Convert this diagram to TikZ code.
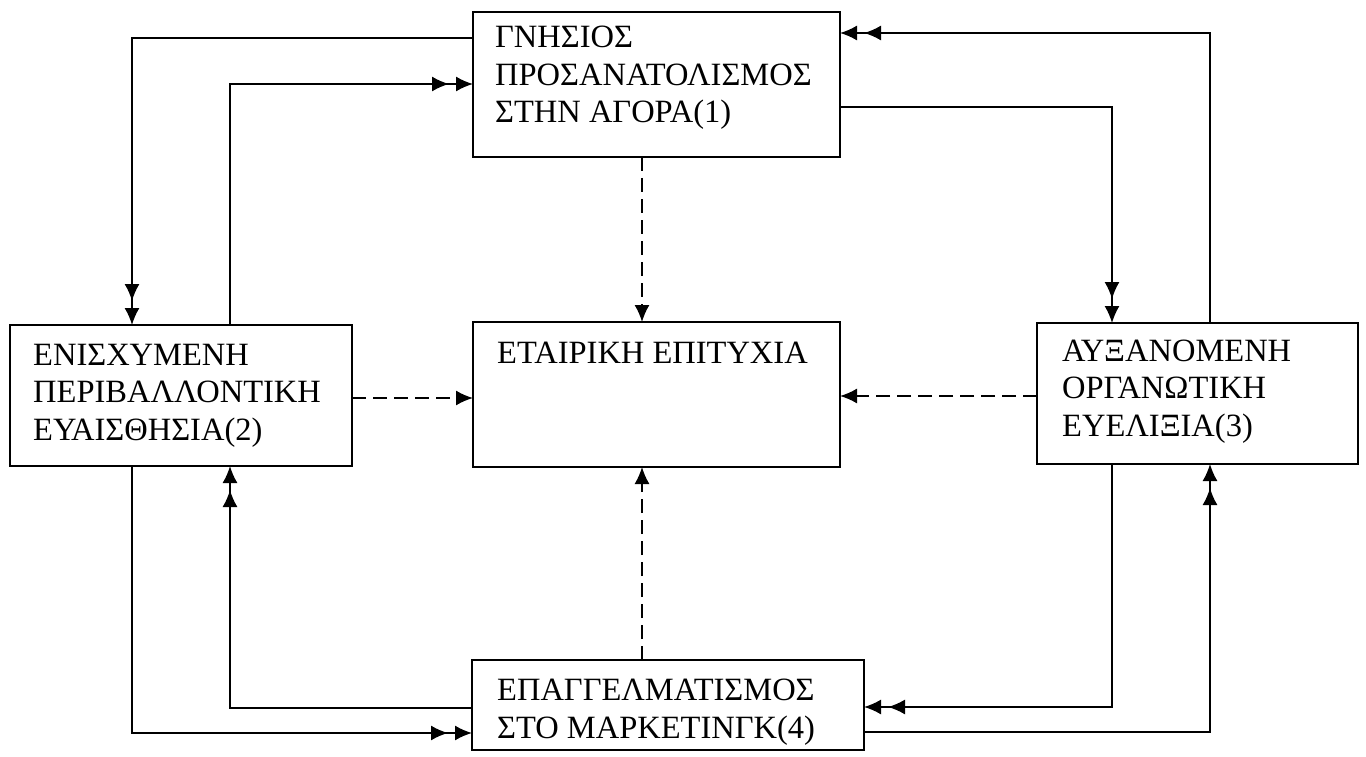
\documentclass[tikz,border=0pt]{standalone}
\usepackage{fontspec}
\setmainfont{Liberation Serif}
\usetikzlibrary{arrows.meta,decorations.markings}
\tikzset{
  box/.style={draw, line width=1.7pt, inner sep=0pt, outer sep=0pt, anchor=north west},
  txt/.style={anchor=base west, inner sep=0pt, align=left, font=\fontsize{32.5}{37.5}\selectfont},
  conn/.style={line width=1.6pt},
  dbl/.style={conn, -{Latex[length=17pt,width=15pt]},
    postaction={decorate, decoration={markings,
      mark=at position -24pt with {\arrow{Latex[length=17pt,width=15pt]}}}}},
  dsh/.style={conn, dash pattern=on 14pt off 7pt, -{Latex[length=17pt,width=15pt]}}
}
\begin{document}
\begin{tikzpicture}[x=1pt,y=-1pt]
\useasboundingbox (0,0) rectangle (1366,757);
% boxes
\node[box, minimum width=367pt, minimum height=145pt] (b1) at (473,12) {};
\node[box, minimum width=367pt, minimum height=145pt] (c) at (473,322) {};
\node[box, minimum width=342pt, minimum height=141pt] (b2) at (10,325) {};
\node[box, minimum width=321pt, minimum height=141pt] (b3) at (1037,323) {};
\node[box, minimum width=392pt, minimum height=90pt] (b4) at (472,660) {};
% texts (anchored at the baseline of their last line)
\node[txt] (t1) at (495,123) {ΓΝΗΣΙΟΣ\\ΠΡΟΣΑΝΑΤΟΛΙΣΜΟΣ\\ΣΤΗΝ ΑΓΟΡΑ(1)};
\node[txt] (t2) at (33,440) {ΕΝΙΣΧΥΜΕΝΗ\\ΠΕΡΙΒΑΛΛΟΝΤΙΚΗ\\ΕΥΑΙΣΘΗΣΙΑ(2)};
\node[txt] (tc) at (497,363) {ΕΤΑΙΡΙΚΗ ΕΠΙΤΥΧΙΑ};
\node[txt] (t3) at (1062,436) {ΑΥΞΑΝΟΜΕΝΗ\\ΟΡΓΑΝΩΤΙΚΗ\\ΕΥΕΛΙΞΙΑ(3)};
\node[txt] (t4) at (497,738) {ΕΠΑΓΓΕΛΜΑΤΙΣΜΟΣ\\ΣΤΟ ΜΑΡΚΕΤΙΝΓΚ(4)};
% solid connectors
\draw[dbl] (b1.west |- 0,38) -| (b2.north -| 132,0);
\draw[dbl] (b2.north -| 230,0) |- (b1.west |- 0,84);
\draw[dbl] (b1.east |- 0,107) -| (b3.north -| 1112,0);
\draw[dbl] (b3.north -| 1210,0) |- (b1.east |- 0,33);
\draw[dbl] (b2.south -| 132,0) |- (b4.west |- 0,733);
\draw[dbl] (b4.west |- 0,708) -| (b2.south -| 230,0);
\draw[dbl] (b3.south -| 1112,0) |- (b4.east |- 0,707);
\draw[dbl] (b4.east |- 0,732) -| (b3.south -| 1210,0);
% dashed connectors
\draw[dsh] (b1.south -| 642,0) -- (c.north -| 642,0);
\draw[dsh] (b2.east |- 0,398) -- (c.west |- 0,398);
\draw[dsh] (b3.west |- 0,396) -- (c.east |- 0,396);
\draw[dsh] (b4.north -| 642,0) -- (c.south -| 642,0);
\end{tikzpicture}
\end{document}
